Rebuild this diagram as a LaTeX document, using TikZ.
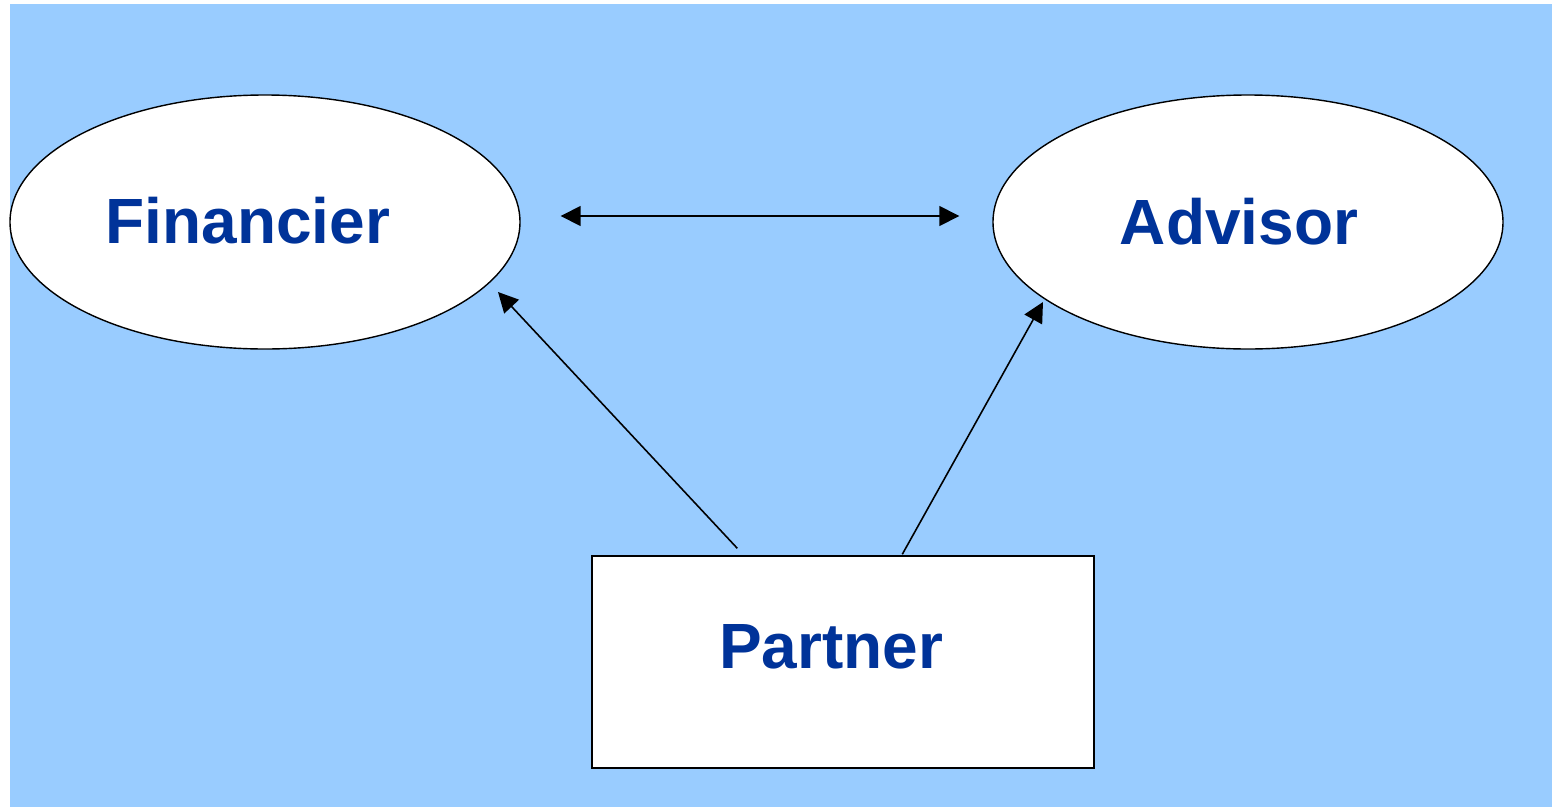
\documentclass[tikz,border=0pt]{standalone}
\usepackage{fontspec}
\setmainfont{Liberation Sans}
\usepackage{xcolor}
\usetikzlibrary{arrows.meta,positioning,shapes.geometric,calc}
\definecolor{skyback}{HTML}{99CCFF}
\definecolor{labelblue}{HTML}{003399}
\begin{document}
\begin{tikzpicture}[
  role/.style={draw,ellipse,fill=white,minimum width=5.1cm,minimum height=2.54cm,
               inner sep=0pt,font=\fontsize{18.2}{22}\selectfont\bfseries,text=labelblue},
  box/.style={draw,rectangle,fill=white,minimum width=5.02cm,minimum height=2.12cm,
              inner sep=0pt,font=\fontsize{18.2}{22}\selectfont\bfseries,text=labelblue},
  arrow/.style={-{Triangle[length=2mm,width=2mm]},line width=0.45pt},
]
\useasboundingbox (0,0) rectangle (15.52,8.07);
\fill[skyback] (0.10,0) rectangle (15.52,8.03);
\node[role] (fin) at (2.65,5.85) {\hspace*{-0.34cm}\raisebox{0.04cm}{Financier}};
\node[role] (adv) at (12.48,5.85) {\hspace*{-0.18cm}\raisebox{-0.06cm}{Advisor}};
\node[box] (partner) at (8.43,1.45) {\hspace*{-0.24cm}\raisebox{0.32cm}{Partner}};
% free ends of the connectors
\coordinate (finR) at ($(fin.east)+(0.40,0.06)$);
\coordinate (advL) at ($(adv.west)+(-0.33,0.06)$);
\coordinate (finLow) at (4.98,5.15);
\coordinate (advLow) at (10.43,5.05);
\coordinate (pL) at ($(partner.north west)+(1.46,0.07)$);
\coordinate (pR) at ($(partner.north west)+(3.11,0.01)$);
\draw[arrow,{Triangle[length=2mm,width=2mm]}-{Triangle[length=2mm,width=2mm]}] (finR) -- (advL);
\draw[arrow] (pL) -- (finLow);
\draw[arrow] (pR) -- (advLow);
\end{tikzpicture}
\end{document}
